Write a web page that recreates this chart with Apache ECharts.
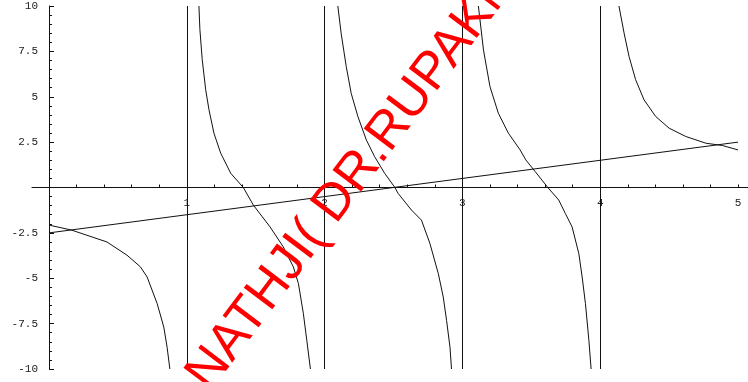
<!DOCTYPE html>
<html>
<head>
<meta charset="utf-8">
<script src="https://cdn.jsdelivr.net/npm/echarts@6/dist/echarts.min.js"></script>
<style>
  html, body { margin: 0; padding: 0; background: #fff; }
  #chart { width: 748px; height: 382px; }
</style>
</head>
<body>
<div id="chart"></div>
<script>
// Branches of the curve between the vertical asymptotes
const branch0 = [[0, -2.07], [0.165, -2.35], [0.42, -3.0], [0.566, -3.73], [0.663, -4.37], [0.712, -4.93], [0.785, -6.4], [0.833, -7.69], [0.857, -8.8], [0.877, -10]];
const branch1 = [[1.088, 10], [1.095, 8.7], [1.112, 7.04], [1.137, 5.39], [1.161, 4.28], [1.197, 2.99], [1.246, 1.89], [1.319, 0.78], [1.41, 0], [1.483, -0.97], [1.604, -2.17], [1.7, -3.27], [1.773, -4.37], [1.81, -5.29], [1.846, -6.95], [1.871, -8.43], [1.897, -10]];
const branch2 = [[2.096, 10], [2.12, 8.5], [2.157, 6.66], [2.193, 5.19], [2.242, 3.9], [2.303, 2.62], [2.363, 1.7], [2.436, 0.78], [2.51, 0], [2.533, -0.32], [2.63, -1.24], [2.703, -1.8], [2.764, -3.08], [2.825, -4.74], [2.861, -6.03], [2.885, -7.32], [2.91, -8.8], [2.921, -10]];
const branch3 = [[3.116, 10], [3.153, 7.58], [3.2, 5.56], [3.261, 4.09], [3.334, 2.99], [3.419, 2.07], [3.46, 1.52], [3.529, 0.87], [3.62, 0], [3.699, -0.69], [3.747, -1.43], [3.796, -2.17], [3.845, -3.64], [3.869, -4.93], [3.893, -6.4], [3.918, -8.43], [3.934, -10]];
const branch4 = [[4.136, 10], [4.173, 8.52], [4.209, 7.23], [4.257, 5.94], [4.318, 4.83], [4.403, 3.91], [4.5, 3.27], [4.621, 2.81], [4.767, 2.44], [4.889, 2.31], [5, 2.07]];

// Straight line
const lineData = [[0, -2.5], [5, 2.5]];

// Vertical lines
const asymptotes = [1, 2, 3, 4];

// Axis ticks and labels
const xTickValues = [0.2, 0.4, 0.6, 0.8, 1, 1.2, 1.4, 1.6, 1.8, 2, 2.2, 2.4, 2.6, 2.8, 3, 3.2, 3.4, 3.6, 3.8, 4, 4.2, 4.4, 4.6, 4.8, 5];
const xLabelValues = [1, 2, 3, 4, 5];
const yLabelValues = [-10, -7.5, -5, -2.5, 2.5, 5, 7.5, 10];

const watermarkText = 'NATHJI( DR.RUPAKNATH';

const ink = '#111';
const labelFont = { fontFamily: 'Liberation Mono', fontSize: 11, color: '#222' };

// Plot frame: x from -0.1234 to 5.0726 across the full width, y from -10 to 10
const gridLeft = 32, gridTop = 6, gridBottom = 13, chartW = 748, chartH = 382;
const xMin = -0.1234, xMax = 5.0726;
const plotH = chartH - gridTop - gridBottom;
// Axes cross at the origin: shift each axis from the grid edge onto the other's zero
const yAxisOffset = -((0 - xMin) / (xMax - xMin)) * (chartW - gridLeft);
const xAxisOffset = -plotH / 2;

const curveSeries = [branch0, branch1, branch2, branch3, branch4].map(function (d) {
  return {
    type: 'line', data: d, showSymbol: false, symbol: 'none', clip: true,
    lineStyle: { color: ink, width: 1 }, silent: true
  };
});

const chart = echarts.init(document.getElementById('chart'), null, { renderer: 'canvas' });
chart.setOption({
  animation: false,
  backgroundColor: '#fff',
  grid: { left: gridLeft, right: 0, top: gridTop, bottom: gridBottom, containLabel: false, outerBoundsMode: 'none' },
  xAxis: {
    type: 'value', min: xMin, max: xMax, offset: xAxisOffset,
    axisLine: { onZero: false, lineStyle: { color: ink, width: 1 } },
    axisTick: { show: true, inside: true, length: 3, lineStyle: { color: ink }, customValues: xTickValues },
    axisLabel: Object.assign({ margin: 10, customValues: xLabelValues }, labelFont),
    splitLine: { show: false }
  },
  yAxis: {
    type: 'value', min: -10, max: 10, interval: 2.5, offset: yAxisOffset,
    axisLine: { show: true, onZero: false, lineStyle: { color: ink, width: 1 } },
    axisTick: { show: true, inside: true, length: 5, lineStyle: { color: ink } },
    minorTick: { show: true, splitNumber: 5, length: 3, lineStyle: { color: ink } },
    axisLabel: Object.assign({ margin: 11, customValues: yLabelValues }, labelFont),
    splitLine: { show: false }
  },
  series: curveSeries.concat([
    {
      type: 'line', data: lineData, showSymbol: false, symbol: 'none',
      lineStyle: { color: ink, width: 1 }, silent: true,
      markLine: {
        silent: true, symbol: 'none', label: { show: false },
        lineStyle: { color: ink, width: 1, type: 'solid' },
        data: asymptotes.map(function (v) { return { xAxis: v }; })
      }
    }
  ]),
  graphic: [{
    type: 'text', x: 198, y: 384, rotation: 53 * Math.PI / 180, silent: true, z: 100,
    style: {
      text: watermarkText, fill: '#ff0000',
      font: '52px "Liberation Sans", Arial, sans-serif',
      align: 'left', verticalAlign: 'middle'
    }
  }]
});
</script>
</body>
</html>
